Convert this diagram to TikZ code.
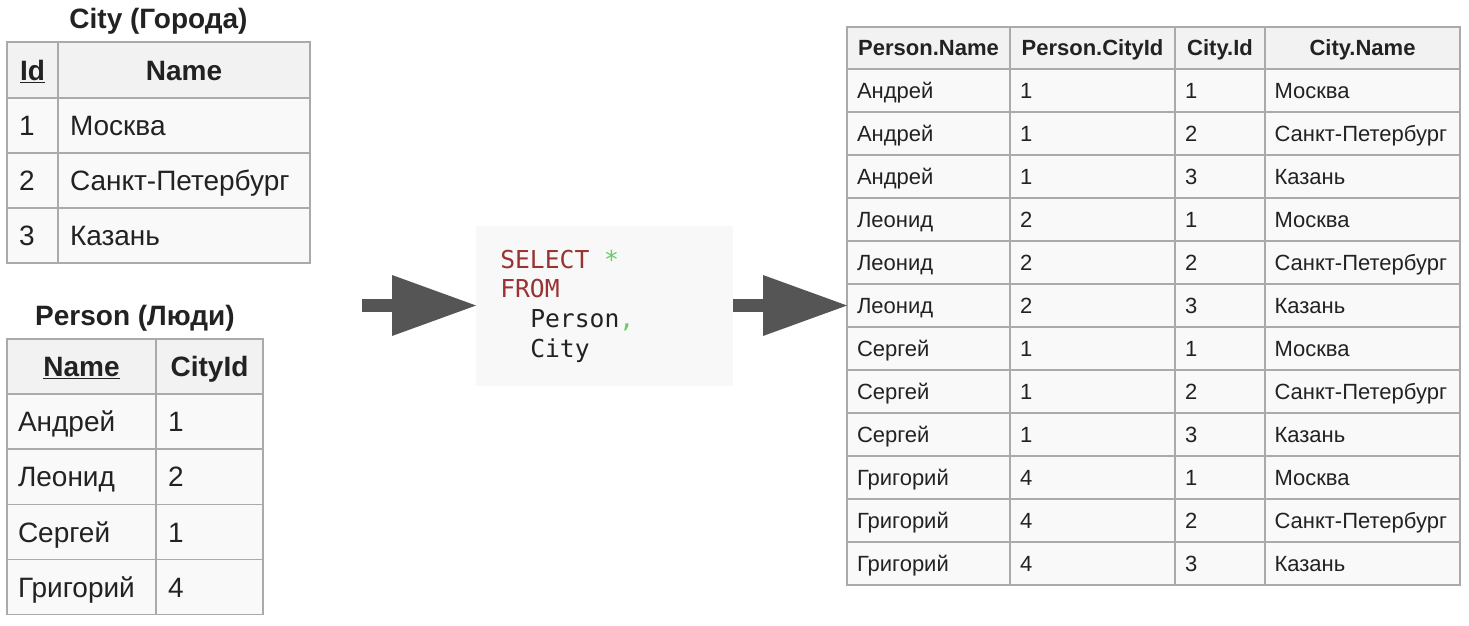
\documentclass[tikz,border=0pt]{standalone}
\usepackage{fontspec}
\setmainfont{Liberation Sans}
\newfontfamily\codefont{DejaVu Sans Mono}
\usetikzlibrary{arrows.meta}
\definecolor{bordergray}{HTML}{AAAAAA}
\definecolor{headbg}{HTML}{F2F2F2}
\definecolor{cellbg}{HTML}{F9F9F9}
\definecolor{textc}{HTML}{222222}
\definecolor{arrowgray}{HTML}{555555}
\definecolor{codebg}{HTML}{F8F8F8}
\definecolor{kwc}{HTML}{993333}
\definecolor{symc}{HTML}{66CC66}
\tikzset{
  cellbase/.style={draw=bordergray, line width=1.1pt, anchor=north west, inner sep=0pt, outer sep=0pt, text depth=0pt, text=textc},
  bigtxt/.style={font=\fontsize{21}{25}\selectfont, text height=15pt},
  bigbold/.style={font=\fontsize{21}{25}\selectfont\bfseries, text height=15pt},
  smalltxt/.style={font=\fontsize{16.5}{20}\selectfont, text height=11.8pt},
  smallbold/.style={font=\fontsize{16.5}{20}\selectfont\bfseries, text height=11.8pt},
  hcell/.style 2 args={cellbase, fill=headbg, minimum width=#1*0.75pt, minimum height=#2*0.75pt, align=center},
  dcell/.style n args={3}{cellbase, fill=cellbg, minimum width=#1*0.75pt, minimum height=#2*0.75pt, text width=#3*0.75pt, align=left},
  tabtitle/.style={anchor=base, inner sep=0pt, text=textc, font=\fontsize{21}{25}\selectfont\bfseries},
  codeline/.style={anchor=base west, inner sep=0pt, text=textc, font=\fontsize{18.5}{22}\codefont},
  bigarrow/.style={draw=arrowgray, line width=9.75pt, -{Triangle[length=63pt, width=45.75pt, line width=0pt, fill=arrowgray]}}
}
\begin{document}
\begin{tikzpicture}[x=0.75pt, y=-0.75pt]
\fill[white] (0,0) rectangle (1469,625);
\useasboundingbox (0,0) rectangle (1469,625);

% ---------- City table ----------
\node[tabtitle] (cityTitle) at (158.5,28) {City (Города)};
\node[hcell={51}{56}, bigbold] (cityH1) at (7,42) {\underline{Id}};
\node[hcell={252}{56}, bigbold] (cityH2) at (58,42) {Name};
\foreach \cid/\cname [count=\i] in {1/Москва, 2/Санкт-Петербург, 3/Казань}{
  \node[dcell={51}{55}{27}, bigtxt] (city-\i-a) at (7,{98+55*(\i-1)}) {\cid};
  \node[dcell={252}{55}{228}, bigtxt] (city-\i-b) at (58,{98+55*(\i-1)}) {\cname};
}

% ---------- Person table ----------
\node[tabtitle] (personTitle) at (135,325) {Person (Люди)};
\node[hcell={149}{55}, bigbold] (perH1) at (7,339) {\underline{Name}};
\node[hcell={107}{55}, bigbold] (perH2) at (156,339) {CityId};
\foreach \pname/\pcid [count=\i] in {Андрей/1, Леонид/2, Сергей/1, Григорий/4}{
  \node[dcell={149}{55}{127}, bigtxt] (per-\i-a) at (7,{394+55.25*(\i-1)}) {\pname};
  \node[dcell={107}{55}{83}, bigtxt] (per-\i-b) at (156,{394+55.25*(\i-1)}) {\pcid};
}

% ---------- SQL box ----------
\node[fill=codebg, minimum width=257*0.75pt, minimum height=160*0.75pt, inner sep=0pt, outer sep=0pt] (sql) at (604.5,305.5) {};
\node[codeline] (sqlL1) at (500,268) {\textcolor{kwc}{SELECT} \textcolor{symc}{*}};
\node[codeline] (sqlL2) at (500,297.7) {\textcolor{kwc}{FROM}};
\node[codeline] (sqlL3) at (530,327.4) {Person\textcolor{symc}{,}};
\node[codeline] (sqlL4) at (530,357) {City};

% ---------- Result table ----------
\node[hcell={163}{42}, smallbold] (resH1) at (847,27) {Person.Name};
\node[hcell={165}{42}, smallbold] (resH2) at (1010,27) {Person.CityId};
\node[hcell={90}{42}, smallbold] (resH3) at (1175,27) {City.Id};
\node[hcell={195}{42}, smallbold] (resH4) at (1265,27) {City.Name};
\foreach \rn/\rpc/\rci/\rcn [count=\i] in {
  Андрей/1/1/Москва, Андрей/1/2/Санкт-Петербург, Андрей/1/3/Казань,
  Леонид/2/1/Москва, Леонид/2/2/Санкт-Петербург, Леонид/2/3/Казань,
  Сергей/1/1/Москва, Сергей/1/2/Санкт-Петербург, Сергей/1/3/Казань,
  Григорий/4/1/Москва, Григорий/4/2/Санкт-Петербург, Григорий/4/3/Казань}{
  \node[dcell={163}{43}{143}, smalltxt] (res-\i-a) at (847,{69+43*(\i-1)}) {\rn};
  \node[dcell={165}{43}{145}, smalltxt] (res-\i-b) at (1010,{69+43*(\i-1)}) {\rpc};
  \node[dcell={90}{43}{70}, smalltxt] (res-\i-c) at (1175,{69+43*(\i-1)}) {\rci};
  \node[dcell={195}{43}{176}, smalltxt] (res-\i-d) at (1265,{69+43*(\i-1)}) {\rcn};
}

% ---------- Arrows ----------
\coordinate (arrowStart) at (362,305.5);
\draw[bigarrow] (arrowStart) -- (sql.west);
\draw[bigarrow] (sql.east) -- (res-6-a.west);
\end{tikzpicture}
\end{document}
